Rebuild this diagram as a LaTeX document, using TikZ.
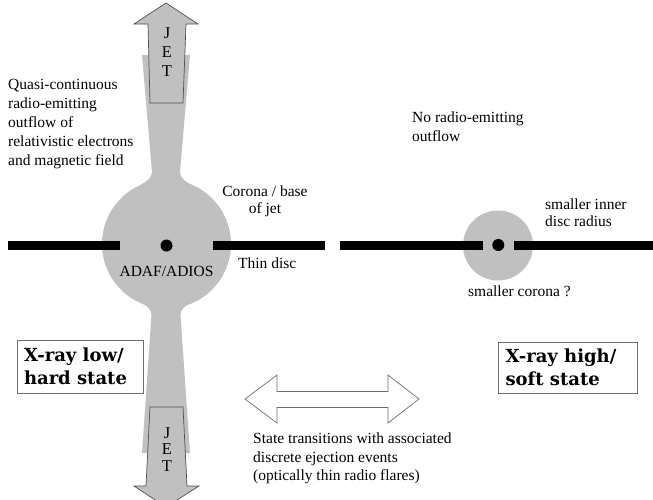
\documentclass[tikz,border=0pt]{standalone}
\usepackage{fontspec}
\setmainfont{Liberation Serif}
\newfontfamily\boxfont{DejaVu Serif}
\definecolor{jetgray}{RGB}{192,192,192}
\definecolor{edgegray}{RGB}{80,80,80}
\definecolor{boxgray}{RGB}{110,110,110}
\tikzset{
  lbl/.style={inner sep=0pt, font=\fontsize{15.5}{19}\selectfont},
  jetletter/.style={inner sep=0pt, font=\fontsize{16.5}{19}\selectfont},
  disc/.style={line width=9pt, line cap=butt},
  jetarrow/.style={draw=edgegray, fill=jetgray, line width=0.7pt, line join=miter},
  statebox/.style={draw=boxgray, line width=0.8pt, fill=white, inner sep=0pt,
    font=\boxfont\bfseries\fontsize{18}{22.5}\selectfont},
  blob/.style={circle, fill=jetgray, inner sep=0pt},
  hole/.style={circle, fill=black, inner sep=0pt, minimum size=12pt},
}
\begin{document}
\begin{tikzpicture}[x=1pt,y=-1pt]
\useasboundingbox (0,0) rectangle (653,499);
\begin{scope}
\clip (0,0) rectangle (653,499);
% jet bands
\fill[jetgray] (142,55) -- (190,55) -- (180,172) .. controls (180,178) and (186,182) .. (191,184.5)
  -- (166,243) -- (141,184.5) .. controls (146,182) and (152,178) .. (152,172) -- cycle;
\fill[jetgray] (141,303) .. controls (146,305) and (151.5,309) .. (151.5,315) -- (142,453) -- (190,453)
  -- (180.5,315) .. controls (180.5,309) and (186,305) .. (191,303) -- (166,243) -- cycle;
% coronae
\node[blob, minimum size=129pt] (corona) at (166.5,244) {};
\node[blob, minimum size=70pt] (corona2) at (498,245.5) {};
% jet arrows
\draw[jetarrow] (166,3) -- (198,24) -- (186,24) -- (183,103) -- (150,103) -- (148,24) -- (134,24) -- cycle;
\draw[jetarrow] (150,407) -- (183,407) -- (187,486) -- (199,486) -- (166,507) -- (134,486) -- (146,486) -- cycle;
\end{scope}
\node[jetletter] (j1) at (167,33) {J};
\node[jetletter] (e1) at (167,52) {E};
\node[jetletter] (t1) at (167,71) {T};
\node[jetletter] (j2) at (167,433) {J};
\node[jetletter] (e2) at (167,449.5) {E};
\node[jetletter] (t2) at (167,466) {T};
% discs
\draw[disc] (7.5,245.5) -- (120,245.5);
\draw[disc] (213,245.5) -- (325,245.5);
\draw[disc] (340,245.5) -- (483,245.5);
\draw[disc] (514,245.5) -- (653,245.5);
% holes
\node[hole] (bh1) at (166.5,245.5) {};
\node[hole] (bh2) at (498.3,245) {};
% double arrow
\draw[draw=boxgray, line width=0.7pt, fill=white] (245,399) -- (277,375) -- (277,391.5) -- (388,391.5) -- (388,375)
  -- (419,399) -- (388,423) -- (388,407.5) -- (277,407.5) -- (277,423) -- cycle;
% labels
\node[lbl, anchor=north west, align=left] (quasi) at (8,79) {Quasi-continuous\\radio-emitting\\outflow of\\relativistic electrons\\and magnetic field};
\node[lbl, anchor=north, align=center, font=\fontsize{15.5}{16.5}\selectfont] (coronalbl) at (265,186) {Corona / base\\of jet};
\node[lbl, anchor=base west] (thin) at (238,268.5) {Thin disc};
\node[lbl, anchor=base] (adaf) at (166.5,276) {ADAF/ADIOS};
\node[lbl, anchor=north west, align=left] (noradio) at (412,112) {No radio-emitting\\outflow};
\node[lbl, anchor=north west, align=left, font=\fontsize{15.5}{17}\selectfont] (inner) at (545,199) {smaller inner\\disc radius};
\node[lbl, anchor=base west] (smallcor) at (468,296) {smaller corona ?};
\node[lbl, anchor=north west, align=left, font=\fontsize{15.5}{18.5}\selectfont] (trans) at (253,433) {State transitions with associated\\discrete ejection events\\(optically thin radio flares)};
% state boxes
\node[statebox, minimum width=126pt, minimum height=53pt] (low) at (80,366.5) {\parbox{112pt}{X-ray low/\\hard state}};
\node[statebox, minimum width=139pt, minimum height=51pt] (high) at (567.5,367.5) {\parbox{124pt}{X-ray high/\\soft state}};
\end{tikzpicture}
\end{document}
